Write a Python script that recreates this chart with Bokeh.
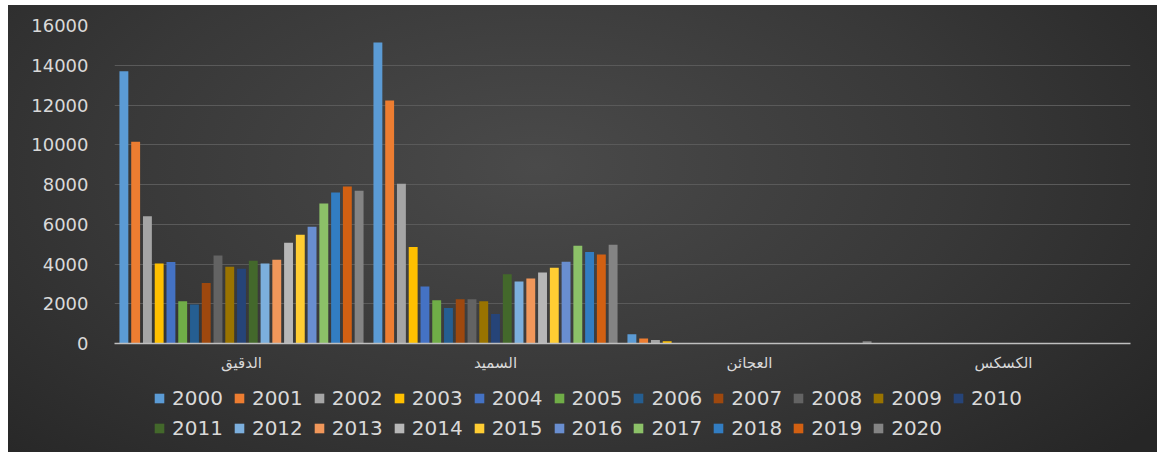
from bokeh.plotting import figure
from bokeh.layouts import column
from bokeh.models import FactorRange, Legend, LegendItem, Range1d, SingleIntervalTicker, ColumnDataSource
from bokeh.transform import dodge
from bokeh.embed import file_html
from bokeh.resources import INLINE

categories = ["الدقيق", "السميد", "العجائن", "الكسكس"]
years = [str(y) for y in range(2000, 2021)]

flour = [13700, 10150, 6400, 4030, 4100, 2130, 1960, 3040, 4430, 3860, 3760,
         4160, 4030, 4210, 5070, 5470, 5870, 7050, 7600, 7900, 7680]
semolina = [15150, 12230, 8040, 4850, 2870, 2180, 1780, 2230, 2230, 2130, 1490,
            3490, 3120, 3270, 3570, 3810, 4110, 4920, 4610, 4480, 4970]
pasta = [470, 250, 180, 110, 20, 15, 10, 10, 15, 10, 10,
         15, 30, 30, 30, 30, 30, 30, 30, 10, 110]
couscous = [15, 30, 30, 30, 30, 30, 20, 10, 10, 10, 10,
            10, 10, 10, 10, 10, 10, 10, 10, 10, 10]

colors = ["#5B9BD5", "#ED7D31", "#A5A5A5", "#FFC000", "#4472C4", "#70AD47",
          "#255E91", "#9E480E", "#636363", "#997300", "#264478", "#43682B",
          "#7CAFDD", "#F1975A", "#B7B7B7", "#FFCD33", "#698ED0", "#8CC168",
          "#327DC2", "#D26012", "#848484"]

data = {"cat": categories}
for i, y in enumerate(years):
    data[y] = [flour[i], semolina[i], pasta[i], couscous[i]]
src = ColumnDataSource(data)

W = 1149
H1 = 380
H2 = 67

p = figure(x_range=FactorRange(factors=categories, range_padding=0),
           y_range=Range1d(0, 16000), width=W, height=H1,
           output_backend="svg", toolbar_location=None,
           min_border_left=106, min_border_right=27, min_border_top=20,
           min_border_bottom=H1 - 338)

p.background_fill_alpha = 0
p.border_fill_alpha = 0
p.outline_line_color = None

step = 0.0463
bw = 0.035
for i, y in enumerate(years):
    p.vbar(x=dodge("cat", (i - 10) * step, range=p.x_range), top=y, width=bw,
           source=src, fill_color=colors[i], line_color=None)

p.ygrid.grid_line_color = "#5a5a5a"
p.ygrid.grid_line_width = 1
p.xgrid.grid_line_color = None

p.yaxis.ticker = SingleIntervalTicker(interval=2000)
p.yaxis.axis_line_color = None
p.yaxis.major_tick_line_color = None
p.yaxis.minor_tick_line_color = None
p.yaxis.major_tick_out = 0
p.yaxis.major_tick_in = 0
p.yaxis.major_label_standoff = 22
p.yaxis.major_label_text_color = "#d9d9d9"
p.yaxis.major_label_text_font = "DejaVu Sans"
p.yaxis.major_label_text_font_size = "18px"

p.xaxis.axis_line_color = "#bfbfbf"
p.xaxis.axis_line_width = 1.5
p.xaxis.major_tick_line_color = None
p.xaxis.major_tick_out = 0
p.xaxis.major_tick_in = 0
p.xaxis.major_label_standoff = 10
p.xaxis.major_label_text_color = "#d9d9d9"
p.xaxis.major_label_text_font = "DejaVu Sans"
p.xaxis.major_label_text_font_size = "15px"

# legend strip (swatch renderers sit outside the visible range)
p2 = figure(width=W, height=H2, x_range=Range1d(0, W), y_range=Range1d(0, H2),
            output_backend="svg", toolbar_location=None,
            min_border_left=0, min_border_right=0, min_border_top=0, min_border_bottom=0)
p2.axis.visible = False
p2.grid.visible = False
p2.background_fill_alpha = 0
p2.border_fill_alpha = 0
p2.outline_line_color = None

items = []
for i, y in enumerate(years):
    r = p2.vbar(x=[-5000], top=[0], width=1, fill_color=colors[i], line_color=None)
    items.append(LegendItem(label=y, renderers=[r]))


def make_legend(its, loc):
    return Legend(items=its, orientation="horizontal", location=loc,
                  glyph_width=12, glyph_height=12, label_standoff=7, spacing=10,
                  padding=0, margin=0, label_height=20,
                  label_text_font="DejaVu Sans", label_text_font_size="20px",
                  label_text_color="#d9d9d9", label_text_baseline="middle",
                  background_fill_alpha=0, border_line_alpha=0)


p2.add_layout(make_legend(items[:11], (39, 42)))
p2.add_layout(make_legend(items[11:], (39, 12)))

layout = column(p, p2, spacing=0,
                styles={"margin-left": "8px", "margin-top": "5px",
                        "background": "radial-gradient(ellipse 68% 95% at 46% 36%, #4a4a4a 0%, #383838 55%, #262626 100%)"})

open("out.html", "w").write(file_html(layout, INLINE))
